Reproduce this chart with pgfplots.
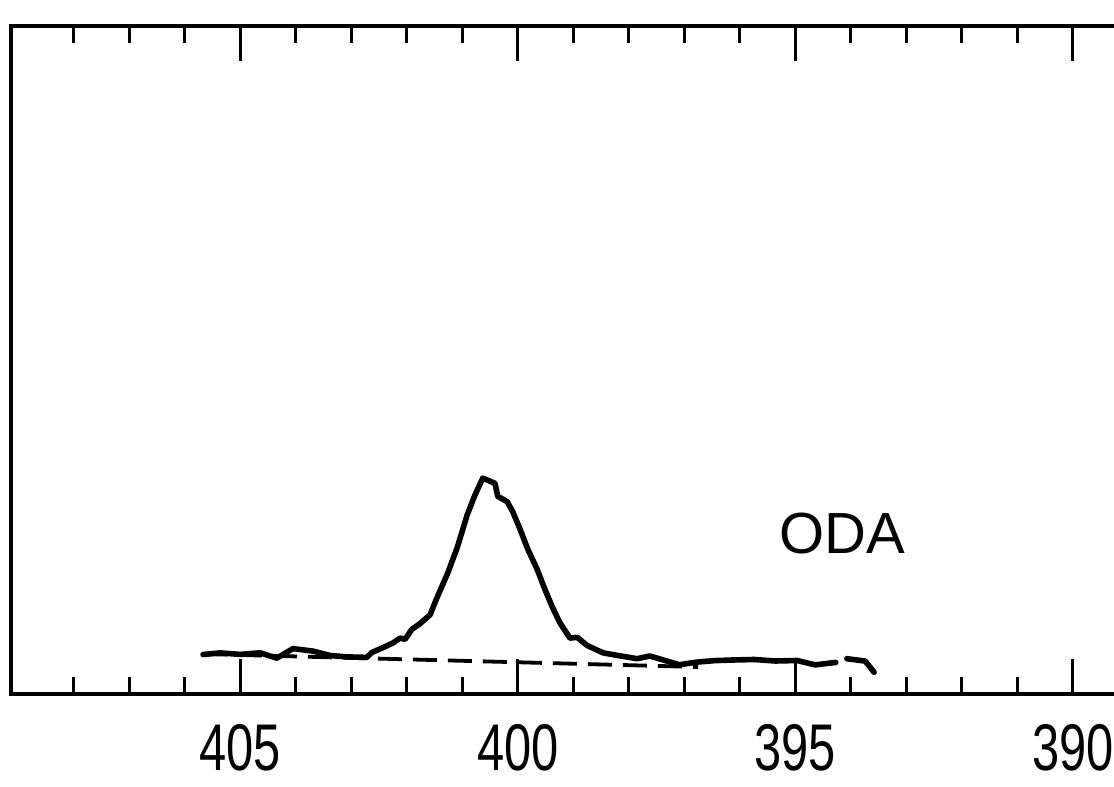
\documentclass[border=0pt]{standalone}
\usepackage{pgfplots}
\pgfplotsset{compat=1.18}
\usepackage{fontspec}
\setmainfont{Liberation Sans}
\newfontfamily\tickfont[FakeStretch=0.74]{Liberation Sans}

\begin{document}
\begin{tikzpicture}
\begin{axis}[
  scale only axis,
  width=559.5pt, height=334pt,
  at={(0pt,0pt)}, anchor=south west,
  x dir=reverse,
  xmin=388.97, xmax=409.13,
  ymin=0, ymax=668,
  xtick={390,395,400,405},
  minor xtick={391,392,393,394,396,397,398,399,401,402,403,404,406,407,408},
  ytick=\empty,
  tick align=inside,
  major tick length=17.5pt,
  minor tick length=8.5pt,
  every tick/.style={black, line width=1.6pt},
  axis line style={line width=2pt},
  xticklabel={\tickfont\fontsize{33}{36}\selectfont\pgfmathprintnumber[assume math mode=true]{\tick}},
  xticklabel style={anchor=center, yshift=-27pt, inner sep=0pt},
  clip=false,
]
% linear background under the N 1s band
\addplot[black, line width=1.9pt, dash pattern=on 12pt off 5.5pt]
  coordinates {(405.67,40) (396.75,27)};
% measured spectrum
\addplot[black, line width=2.8pt, line join=round, line cap=round] coordinates {
  (405.67,39.5) (405.36,41.1) (405.00,39.6) (404.64,41.2) (404.34,35.8)
  (404.05,45.4) (403.69,42.9) (403.38,38.5) (403.08,37.1) (402.72,36.6)
  (402.63,41.5) (402.43,46.3) (402.25,51.0) (402.12,55.9) (402.03,54.7)
  (401.91,64.6) (401.76,70.4) (401.58,79.2) (401.45,97.0) (401.27,119.8)
  (401.09,146.5) (400.91,179.3) (400.77,199.1) (400.63,215.9) (400.41,210.6)
  (400.36,197.6) (400.19,192.3) (400.09,182.2) (399.96,165.0) (399.82,144.9)
  (399.65,124.6) (399.51,104.5) (399.38,87.3) (399.24,71.1) (399.06,55.9)
  (398.93,56.7) (398.75,48.5) (398.46,41.1) (398.10,37.6) (397.85,35.3)
  (397.62,38.0) (397.42,34.7) (397.09,29.3) (396.77,31.9) (396.45,33.4)
  (396.12,34.0) (395.74,34.5) (395.36,33.0) (394.97,33.5) (394.64,29.1)
  (394.27,31.6)
};
\addplot[black, line width=2.8pt, line join=round, line cap=round] coordinates {
  (394.07,35.3) (393.74,32.9) (393.58,21.7)
};
\node[font=\fontsize{29}{34}\selectfont] at (axis cs:394.16,160) {ODA};
\end{axis}
\pgfresetboundingbox
\path (-5.5pt,-46.5pt) rectangle (551.5pt,347pt);
\end{tikzpicture}
\end{document}
